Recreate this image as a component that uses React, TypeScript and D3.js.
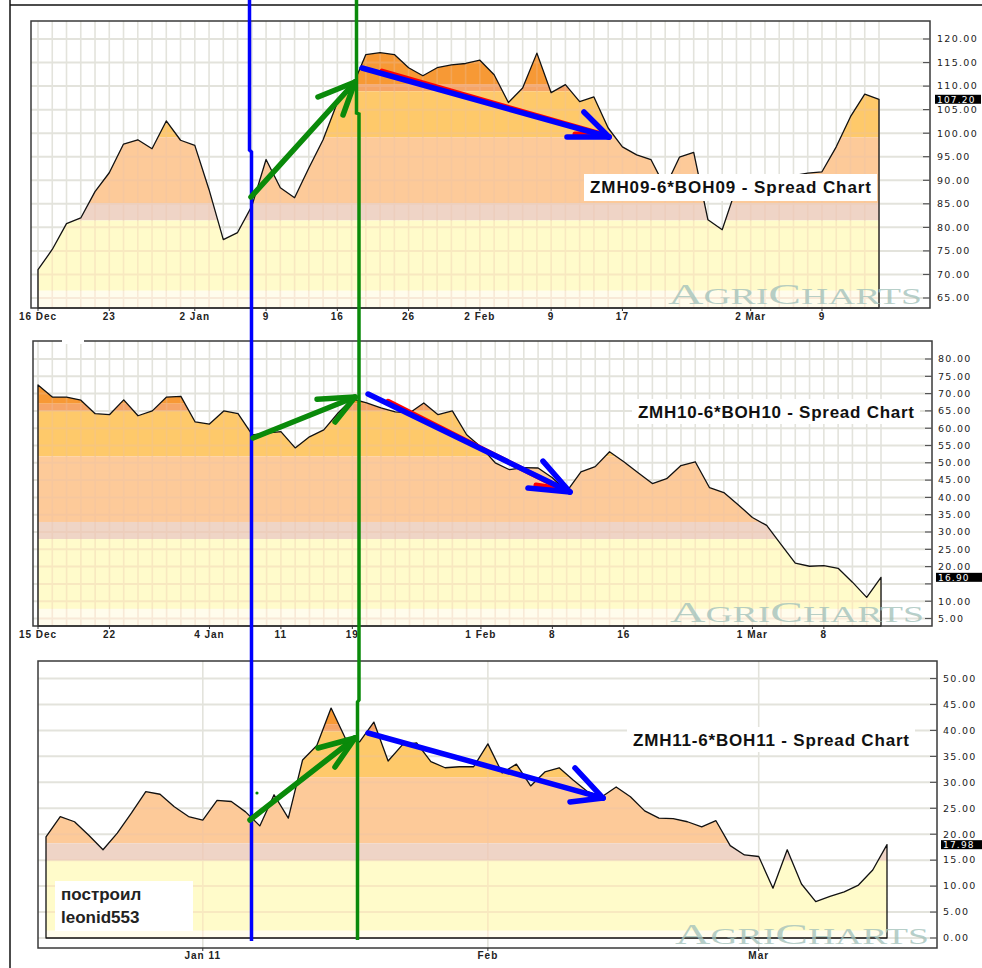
import React from 'react';
import * as d3 from 'd3';

// ---------- data ----------
const topValues = [71.0, 75.3, 80.8, 82.0, 87.6, 91.6, 97.7, 98.6, 96.7, 102.6, 98.5, 97.4, 88.0, 77.4, 78.9, 84.5, 94.4, 88.4, 86.3, 92.6, 98.6, 106.5, 109.5, 116.7, 117.1, 116.7, 113.9, 112.2, 113.9, 114.5, 114.8, 115.5, 112.4, 106.5, 109.6, 117.0, 108.6, 110.3, 106.7, 107.7, 101.1, 97.1, 95.4, 94.4, 88.5, 94.9, 95.9, 81.6, 79.5, 88.5, 89.5, 90.0, 90.5, 91.0, 91.5, 91.8, 97.1, 103.5, 108.3, 107.2];
const midValues = [72.5, 69.0, 69.0, 68.1, 64.2, 63.9, 68.2, 63.6, 65.0, 69.0, 69.2, 61.8, 61.2, 65.0, 64.2, 58.1, 58.6, 59.0, 54.3, 57.5, 59.5, 64.4, 68.5, 67.3, 65.9, 64.7, 64.4, 67.3, 63.9, 65.0, 58.1, 54.6, 50.0, 48.0, 48.6, 48.5, 45.7, 41.7, 47.4, 48.9, 53.2, 50.3, 47.1, 44.0, 45.4, 49.2, 50.3, 42.8, 41.4, 37.9, 34.2, 31.9, 26.4, 21.0, 20.1, 20.3, 19.5, 15.5, 11.1, 16.9];
const botValues = [19.5, 23.4, 22.4, 19.8, 17.0, 20.2, 24.1, 28.2, 27.7, 25.3, 23.4, 22.7, 26.5, 26.3, 24.3, 21.6, 27.6, 23.1, 34.3, 37.1, 44.3, 38.5, 37.8, 41.6, 34.1, 37.2, 37.6, 34.0, 32.8, 33.0, 33.0, 37.4, 31.8, 33.5, 29.3, 32.0, 32.8, 30.4, 28.2, 27.2, 29.1, 27.2, 24.5, 23.1, 23.0, 22.4, 21.4, 22.6, 17.8, 16.0, 15.7, 9.6, 17.0, 10.4, 7.0, 8.0, 8.9, 10.2, 13.1, 17.98];

const topTickIdx = [0, 5, 11, 16, 21, 26, 31, 36, 41, 50, 55];
const topTickLabels = ['16 Dec', '23', '2 Jan', '9', '16', '26', '2 Feb', '9', '17', '2 Mar', '9'];
const midTickIdx = [0, 5, 12, 17, 22, 31, 36, 41, 50, 55];
const midTickLabels = ['15 Dec', '22', '4 Jan', '11', '19', '1 Feb', '8', '16', '1 Mar', '8'];
const botTickIdx = [11, 31, 50];
const botTickLabels = ['Jan 11', 'Feb', 'Mar'];

const topYTicks = d3.range(65, 120.1, 5);
const midYTicks = d3.range(5, 80.1, 5);
const botYTicks = d3.range(0, 50.1, 5);

const titles = ['ZMH09-6*BOH09 - Spread Chart', 'ZMH10-6*BOH10 - Spread Chart', 'ZMH11-6*BOH11 - Spread Chart'];
const authorLines = ['построил', 'leonid553'];

// hand-drawn arrows in data coordinates [index, value]
const topArrows = [
  { color: '#0a8a0a', from: [14.94, 86.45], to: [22.24, 110.87], heads: [[19.64, 107.68], [21.4, 103.86]], red: false },
  { color: '#0000ff', from: [22.73, 113.84], to: [40.06, 99.19], heads: [[37.11, 99.19], [38.3, 104.5]], red: true },
];
const midArrows = [
  { color: '#0a8a0a', from: [15.05, 57.17], to: [22.19, 69.0], heads: [[19.53, 68.4], [20.79, 61.8]], red: false },
  { color: '#0000ff', from: [23.1, 69.87], to: [37.23, 41.56], heads: [[34.29, 42.7], [35.34, 50.5]], red: true },
];
const botArrows = [
  { color: '#0a8a0a', from: [14.31, 22.74], to: [21.68, 38.54], heads: [[19.08, 36.61], [20.27, 32.95]], red: false },
  { color: '#0000ff', from: [22.59, 39.5], to: [39.08, 26.97], heads: [[36.76, 26.2], [37.11, 32.76]], red: false },
];

// ---------- style ----------
const BAND_FRACS = [0.22, 0.245, 0.405, 0.635, 0.695, 0.94];
const BAND_COLORS = ['#f79a35', '#f6a568', '#fec96b', '#fdca9a', '#efd5c6', '#fffbcb', '#fffcec'];
const fmt = d3.format('.2f');

type Cfg = {
  id: string;
  values: number[];
  frame: [number, number, number, number];
  xRange: [number, number];
  yDomain: [number, number];
  yRange: [number, number];
  yTicks: number[];
  xTickIdx: number[];
  xTickLabels: string[];
  dailyGrid: boolean;
  baseValue: number | null;
  xLabelY: number;
  axisX: number;
  labelX: number;
  boxX: number;
  lastLabel: string;
  title: string;
  titleBox: [number, number, number, number];
  titleBaseline: number;
  arrows: typeof topArrows;
};

const panels: Cfg[] = [
  {
    id: 'p1', values: topValues, frame: [31, 21, 930, 308], xRange: [38, 879],
    yDomain: [65, 120], yRange: [298, 39], yTicks: topYTicks,
    xTickIdx: topTickIdx, xTickLabels: topTickLabels, dailyGrid: true, baseValue: null,
    xLabelY: 320, axisX: 930, labelX: 937, boxX: 935, lastLabel: '107.20',
    title: titles[0], titleBox: [584, 174, 293, 27], titleBaseline: 193, arrows: topArrows,
  },
  {
    id: 'p2', values: midValues, frame: [33, 341, 932, 626], xRange: [38, 881],
    yDomain: [5, 80], yRange: [618.5, 359], yTicks: midYTicks,
    xTickIdx: midTickIdx, xTickLabels: midTickLabels, dailyGrid: true, baseValue: null,
    xLabelY: 638, axisX: 932, labelX: 938, boxX: 936, lastLabel: '16.90',
    title: titles[1], titleBox: [632, 399, 288, 25], titleBaseline: 418, arrows: midArrows,
  },
  {
    id: 'p3', values: botValues, frame: [38, 661, 937, 948], xRange: [46, 887],
    yDomain: [0, 50], yRange: [938, 678.5], yTicks: botYTicks,
    xTickIdx: botTickIdx, xTickLabels: botTickLabels, dailyGrid: false, baseValue: 0,
    xLabelY: 959, axisX: 937, labelX: 943, boxX: 941, lastLabel: '17.98',
    title: titles[2], titleBox: [627, 727, 288, 25], titleBaseline: 746, arrows: botArrows,
  },
];

function Panel({ cfg }: { cfg: Cfg }) {
  const [fx0, fy0, fx1, fy1] = cfg.frame;
  const n = cfg.values.length;
  const x = d3.scaleLinear().domain([0, n - 1]).range(cfg.xRange);
  const y = d3.scaleLinear().domain(cfg.yDomain).range(cfg.yRange);
  const base = cfg.baseValue != null ? y(cfg.baseValue) : fy1;
  const area = d3.area<number>().x((_, i) => x(i)).y0(base).y1((d) => y(d));
  const areaPath = area(cfg.values) || '';
  const h = fy1 - fy0;
  const edges = [fy0, ...BAND_FRACS.map((f) => fy0 + f * h), fy1];
  const vIdx = cfg.dailyGrid ? d3.range(n) : cfg.xTickIdx;
  const lastV = cfg.values[n - 1];
  const lastY = y(lastV);

  const gridLines = (stroke: string, opacity: number) => (
    <g opacity={opacity}>
      {cfg.yTicks.map((t) => (
        <line key={'h' + t} x1={fx0} x2={cfg.axisX - 7} y1={y(t)} y2={y(t)} stroke={stroke} strokeWidth={2} />
      ))}
      {vIdx.map((i) => (
        <line key={'v' + i} x1={x(i)} x2={x(i)} y1={fy0} y2={fy1} stroke={stroke} strokeWidth={1.6} />
      ))}
    </g>
  );

  return (
    <g>
      <defs>
        <clipPath id={cfg.id + '-clip'}>
          <path d={areaPath} />
        </clipPath>
      </defs>
      <rect x={fx0} y={fy0} width={fx1 - fx0} height={fy1 - fy0} fill="#ffffff" />
      {gridLines('#e3e3dc', 1)}
      <g clipPath={`url(#${cfg.id}-clip)`}>
        {BAND_COLORS.map((c, i) => (
          <rect key={i} x={fx0} y={edges[i]} width={fx1 - fx0} height={edges[i + 1] - edges[i]} fill={c} />
        ))}
        {gridLines('#e9bfa8', 0.3)}
      </g>
      <path d={areaPath} fill="none" stroke="#111" strokeWidth={1.3} strokeLinejoin="round" />
      {/* watermark */}
      <text x={fx1 - 262} y={fy1 - 4} fill="#a3c2bb" fillOpacity={0.8} fontFamily="'Liberation Serif', 'DejaVu Serif', serif"
        textLength={254} lengthAdjust="spacingAndGlyphs">
        <tspan fontSize={30}>A</tspan><tspan fontSize={23}>GRI</tspan><tspan fontSize={30}>C</tspan><tspan fontSize={23}>HARTS</tspan>
      </text>
      <rect x={fx0} y={fy0} width={fx1 - fx0} height={fy1 - fy0} fill="none" stroke="#3a3a3a" strokeWidth={1.5} />
      {/* y axis */}
      {cfg.yTicks.map((t) => (
        <g key={'yt' + t}>
          <line x1={cfg.axisX - 7} x2={cfg.axisX} y1={y(t)} y2={y(t)} stroke="#555" strokeWidth={1.3} />
          {Math.abs(y(t) - lastY) > 7 && (
            <text x={cfg.labelX} y={y(t)} dy="0.35em" fontSize={9.5} letterSpacing={1.3}
              fontFamily="'DejaVu Sans', sans-serif" fill="#222">{fmt(t)}</text>
          )}
        </g>
      ))}
      <rect x={cfg.boxX} y={lastY - 4.5} width={46} height={9} fill="#000" />
      <text x={cfg.boxX + 2} y={lastY} dy="0.36em" fontSize={9} letterSpacing={1.2}
        fontFamily="'DejaVu Sans', sans-serif" fill="#fff">{cfg.lastLabel}</text>
      {/* x axis labels */}
      {cfg.xTickIdx.map((i, k) => (
        <g key={'xt' + i}>
          <line x1={x(i)} x2={x(i)} y1={fy1} y2={fy1 + 3} stroke="#333" strokeWidth={1} />
          <text x={x(i)} y={cfg.xLabelY} textAnchor="middle" fontSize={10} fontWeight="bold" letterSpacing={1}
            fontFamily="'Liberation Sans', Arial, sans-serif" fill="#222">{cfg.xTickLabels[k]}</text>
        </g>
      ))}
      {/* title box */}
      <rect x={cfg.titleBox[0]} y={cfg.titleBox[1]} width={cfg.titleBox[2]} height={cfg.titleBox[3]} fill="#ffffff" />
      <text x={cfg.titleBox[0] + 6} y={cfg.titleBaseline} fontSize={17} fontWeight="bold"
        fontFamily="'Liberation Sans', Arial, sans-serif" fill="#111" textLength={cfg.titleBox[2] - 12}
        lengthAdjust="spacing">{cfg.title}</text>
    </g>
  );
}

function Arrows({ cfg }: { cfg: Cfg }) {
  const n = cfg.values.length;
  const x = d3.scaleLinear().domain([0, n - 1]).range(cfg.xRange);
  const y = d3.scaleLinear().domain(cfg.yDomain).range(cfg.yRange);
  const P = (p: number[]) => [x(p[0]), y(p[1])];
  return (
    <g>
      {cfg.arrows.map((a, k) => {
        const [x0, y0] = P(a.from);
        const [x1, y1] = P(a.to);
        const hs = a.heads.map(P);
        return (
          <g key={k} strokeLinecap="round" strokeLinejoin="round" fill="none">
            {a.red && (
              <g stroke="#ff0000" strokeWidth={5}>
                <line x1={x0 + 20} y1={y0 - 2.5 + (y1 - y0) * (20 / (x1 - x0))} x2={x1 - 8} y2={y1 - 3} />
                <line x1={hs[0][0] + 8} y1={hs[0][1] - 3} x2={x1 - 8} y2={y1 - 3} />
              </g>
            )}
            <g stroke={a.color} strokeWidth={5.5}>
              <line x1={x0} y1={y0} x2={x1} y2={y1} />
              {hs.map((hp, j) => (
                <line key={j} x1={x1} y1={y1} x2={hp[0]} y2={hp[1]} />
              ))}
            </g>
          </g>
        );
      })}
    </g>
  );
}

export default function App() {
  React.useEffect(() => {
    document.body.style.margin = '0';
  }, []);
  const bx = d3.scaleLinear().domain([0, botValues.length - 1]).range(panels[2].xRange);
  const by = d3.scaleLinear().domain(panels[2].yDomain).range(panels[2].yRange);
  return (
    <svg width={982} height={968} viewBox="0 0 982 968" style={{ position: 'absolute', left: 0, top: 0, display: 'block' }}>
      <rect x={0} y={0} width={982} height={968} fill="#ffffff" />
      <line x1={10} y1={0} x2={10} y2={968} stroke="#111" strokeWidth={1.5} />
      <line x1={10} y1={5} x2={982} y2={5} stroke="#111" strokeWidth={1.5} />
      {panels.map((p) => (
        <Panel key={p.id} cfg={p} />
      ))}
      {/* gap in middle frame */}
      <rect x={62} y={338} width={22} height={6} fill="#ffffff" />
      {/* author box */}
      <rect x={55} y={881} width={138} height={50} fill="#ffffff" />
      <text x={61} y={900} fontSize={17} fontWeight="bold" fontFamily="'Liberation Sans', Arial, sans-serif" fill="#222">{authorLines[0]}</text>
      <text x={61} y={923} fontSize={17} fontWeight="bold" fontFamily="'Liberation Sans', Arial, sans-serif" fill="#222">{authorLines[1]}</text>
      {/* vertical marker lines */}
      <polyline points="249.5,0 249.5,150 251.5,152 251.5,941" fill="none" stroke="#0000ff" strokeWidth={3.5} />
      <polyline points="356.5,0 356.5,113 359,114 359,700 357.5,702 357.5,940" fill="none" stroke="#0a8a0a" strokeWidth={3.5} />
      {panels.map((p) => (
        <Arrows key={'a' + p.id} cfg={p} />
      ))}
      <circle cx={bx(14.8)} cy={by(27.94)} r={1.6} fill="#0a8a0a" />
    </svg>
  );
}
